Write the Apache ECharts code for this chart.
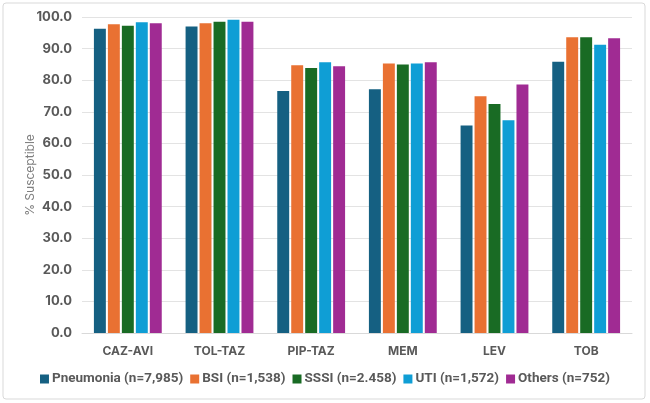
<!DOCTYPE html>
<html>
<head>
<meta charset="utf-8">
<script src="https://cdn.jsdelivr.net/npm/echarts@6/dist/echarts.min.js"></script>
<style>
  html, body { margin: 0; padding: 0; background: #fff; }
  #chart { width: 650px; height: 403px; }
</style>
</head>
<body>
<div id="chart"></div>
<script>
var categories = ['CAZ-AVI', 'TOL-TAZ', 'PIP-TAZ', 'MEM', 'LEV', 'TOB'];
var seriesNames = ['Pneumonia (n=7,985)', 'BSI (n=1,538)', 'SSSI (n=2.458)', 'UTI (n=1,572)', 'Others (n=752)'];
var pneumonia = [96.3, 97.0, 76.6, 77.1, 65.7, 85.8];
var bsi = [97.7, 98.0, 84.7, 85.3, 74.9, 93.6];
var sssi = [97.2, 98.5, 83.9, 85.0, 72.5, 93.6];
var uti = [98.3, 99.1, 85.7, 85.3, 67.3, 91.2];
var others = [98.0, 98.5, 84.4, 85.7, 78.6, 93.3];
var colors = ['#156082', '#E97132', '#196B24', '#0F9ED5', '#A02B93'];

var allValues = [pneumonia, bsi, sssi, uti, others];
var fontFam = 'Inter, "Liberation Sans", sans-serif';

var series = [];
for (var i = 0; i < seriesNames.length; i++) {
    series.push({
        name: seriesNames[i],
        type: 'bar',
        barGap: '17%',
        barCategoryGap: '26%',
        itemStyle: { color: colors[i] },
        data: allValues[i]
    });
}

var myChart = echarts.init(document.getElementById('chart'));
var option = {
    backgroundColor: '#fff',
    animation: false,
    color: colors,
    graphic: [{
        type: 'rect',
        shape: { x: 3, y: 3, width: 642, height: 396, r: 3 },
        style: { fill: 'none', stroke: '#D9D9D9', lineWidth: 1 },
        silent: true
    }],
    grid: { left: 82, right: 18, top: 17, bottom: 70 },
    legend: {
        bottom: 12,
        left: 'center',
        itemWidth: 9,
        itemHeight: 9,
        itemGap: 7,
        icon: 'rect',
        textStyle: { color: '#595959', fontSize: 13.5, fontWeight: 'bold', fontFamily: 'Roboto, sans-serif', padding: [0, 0, 0, -2] },
        data: seriesNames
    },
    xAxis: {
        type: 'category',
        data: categories,
        axisLine: { lineStyle: { color: '#D9D9D9' } },
        axisTick: { show: false },
        axisLabel: { color: '#595959', fontSize: 12, fontWeight: 'bold', fontFamily: fontFam, margin: 12 }
    },
    yAxis: {
        type: 'value',
        min: 0,
        max: 100,
        interval: 10,
        name: '% Susceptible',
        nameLocation: 'middle',
        nameGap: 46,
        nameMoveOverlap: false,
        nameTextStyle: { color: '#7F7F7F', fontSize: 12, fontFamily: fontFam },
        axisLine: { show: false },
        axisTick: { show: false },
        splitLine: { lineStyle: { color: '#E3E3E3' } },
        axisLabel: {
            color: '#595959', fontSize: 13, fontWeight: 'bold', fontFamily: fontFam, margin: 10,
            formatter: function (v) { return v.toFixed(1); }
        }
    },
    series: series
};
myChart.setOption(option);
</script>
</body>
</html>
